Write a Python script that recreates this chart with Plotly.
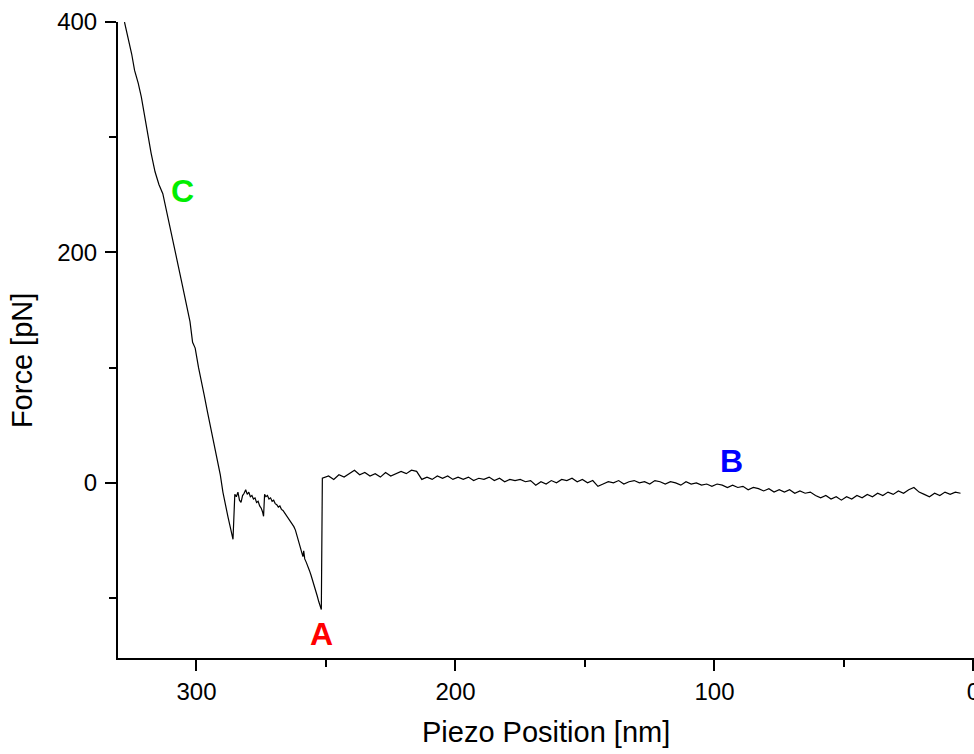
import plotly.graph_objects as go

# contact part (steep rise towards the surface)
contact_x = [327.8, 326.5, 325.0, 323.9, 322.5, 321.3, 320.0, 318.8, 317.5, 316.0,
             314.5, 313.0, 311.5, 310.0, 308.5, 307.0, 305.5, 304.0, 302.5, 301.5,
             300.5, 299.2, 298.1, 297.0, 295.8, 294.5, 293.2, 292.0, 290.8, 289.8,
             288.8, 287.8, 286.8, 285.9]
contact_y = [400, 388, 372, 358, 347, 335, 318, 300, 286, 270,
             259, 251, 236, 220, 204, 188, 172, 157, 140, 122,
             117, 100, 89, 76, 62, 48, 34, 21, 7, -8,
             -20, -30, -40, -49]

# rupture events between the first dip and A
rupture_x = [285.2, 284.6, 284.0, 283.4, 282.8, 282.2, 281.6, 281.0, 280.4, 279.8,
             279.2, 278.6, 278.0, 277.4, 276.8, 276.2, 275.6, 275.0, 274.5, 274.1,
             273.7, 273.2, 272.6, 272.0, 271.4, 270.8, 270.2, 269.6, 269.0, 268.4,
             267.8, 267.2, 266.6, 266.0, 265.4, 264.8, 264.2, 263.6, 263.0, 262.4,
             261.8, 261.2, 260.6, 260.0, 259.4, 258.9, 258.6, 258.2, 257.6, 257.0,
             256.4, 255.8, 255.2, 254.6, 254.0, 253.4, 252.8, 252.2, 251.8]
rupture_y = [-10, -12, -8, -15, -17, -11, -9, -6, -10, -8,
             -12, -11, -14, -13, -17, -16, -20, -22, -25, -29,
             -10, -12, -11, -14, -13, -16, -15, -18, -19, -21,
             -20, -23, -24, -26, -28, -30, -32, -33, -36, -38,
             -41, -46, -51, -56, -61, -64, -59, -66, -69, -72,
             -76, -80, -84, -88, -93, -98, -103, -107, -110]

# free baseline after detachment
baseline_x = [251.4, 249, 247, 245, 243, 241, 239, 237, 235, 233,
              231, 229, 227, 225, 223, 221, 219, 217, 215, 213,
              211, 209, 207, 205, 203, 201, 199, 197, 195, 193,
              191, 189, 187, 185, 183, 181, 179, 177, 175, 173,
              171, 169, 167, 165, 163, 161, 159, 157, 155, 153,
              151, 149, 147, 145, 143, 141, 139, 137, 135, 133,
              131, 129, 127, 125, 123, 121, 119, 117, 115, 113,
              111, 109, 107, 105, 103, 101, 99, 97, 95, 93,
              91, 89, 87, 85, 83, 81, 79, 77, 75, 73,
              71, 69, 67, 65, 63, 61, 59, 57, 55, 53,
              51, 49, 47, 45, 43, 41, 39, 37, 35, 33,
              31, 29, 27, 25, 23, 21, 19, 17, 15, 13,
              11, 9, 7, 5]
baseline_y = [4, 6, 3, 7, 5, 8, 11, 7, 9, 6,
              8, 5, 9, 6, 8, 10, 8, 11, 10, 3,
              5, 3, 6, 4, 6, 3, 5, 3, 5, 2,
              4, 3, 5, 2, 4, 1, 3, 2, 3, 1,
              2, -2, 1, -1, 2, 0, 3, 2, 4, 1,
              3, 0, 2, -3, -1, 1, 0, 2, -1, 1,
              2, 0, 1, -1, 2, 1, -1, 1, 0, -2,
              1, -1, 0, -2, -1, -3, -1, -2, -4, -2,
              -4, -3, -6, -4, -5, -7, -5, -8, -6, -8,
              -6, -9, -7, -9, -8, -11, -13, -11, -14, -12,
              -15, -12, -14, -11, -13, -10, -12, -9, -11, -8,
              -10, -7, -9, -6, -4, -8, -10, -12, -9, -11,
              -8, -10, -8, -9]

# point labels
label_text = ["A", "B", "C"]
label_x = [251.7, 93.5, 305.4]
label_y = [-131, 19, 253]
label_color = ["#ff0000", "#0000ff", "#00ee00"]

x_ticks = [300, 200, 100, 0]
y_ticks = [400, 200, 0]

FONT = "Liberation Sans, Arial, sans-serif"


def main():
    fig = go.Figure()
    fig.add_trace(go.Scatter(
        x=contact_x + rupture_x + baseline_x,
        y=contact_y + rupture_y + baseline_y,
        mode="lines",
        line=dict(color="black", width=1.2),
        showlegend=False))

    for t, x, y, c in zip(label_text, label_x, label_y, label_color):
        fig.add_annotation(x=x, y=y, text="<b>%s</b>" % t, showarrow=False,
                           xanchor="center", yanchor="middle",
                           font=dict(family=FONT, size=32, color=c))

    fig.add_annotation(xref="paper", yref="paper", x=-0.112, y=0.467,
                       xanchor="center", yanchor="middle",
                       text="Force [pN]", textangle=-90, showarrow=False,
                       font=dict(family=FONT, size=29, color="black"))
    fig.add_annotation(xref="paper", yref="paper", x=0.5, y=-0.117,
                       xanchor="center", yanchor="middle",
                       text="Piezo Position [nm]", showarrow=False,
                       font=dict(family=FONT, size=29, color="black"))

    fig.update_xaxes(range=[330.3, -0.2], tickvals=x_ticks, showgrid=False,
                     zeroline=False, showline=True, linecolor="black", linewidth=2,
                     ticks="outside", ticklen=11, tickwidth=2, tickcolor="black",
                     minor=dict(dtick=50, tick0=0, ticks="outside", ticklen=7,
                                tickwidth=2, tickcolor="black", showgrid=False),
                     tickfont=dict(family=FONT, size=24, color="black"),
                     ticklabeloverflow="allow", automargin=False)
    fig.update_yaxes(range=[-152, 400], tickvals=y_ticks, showgrid=False,
                     zeroline=False, showline=True, linecolor="black", linewidth=2,
                     ticks="outside", ticklen=11, tickwidth=2, tickcolor="black",
                     minor=dict(dtick=100, tick0=0, ticks="outside", ticklen=7,
                                tickwidth=2, tickcolor="black", showgrid=False),
                     tickfont=dict(family=FONT, size=24, color="black"),
                     ticklabelstandoff=3, automargin=False)

    fig.update_layout(width=974, height=754,
                      margin=dict(l=118, r=0, t=22, b=96),
                      plot_bgcolor="white", paper_bgcolor="white")
    # drop the default page margin so the figure fills the window exactly
    fig.write_html("out.html", config={"displayModeBar": False},
                   post_script="document.body.style.margin='0';"
                               "document.body.style.overflow='hidden';")


if __name__ == "__main__":
    main()
